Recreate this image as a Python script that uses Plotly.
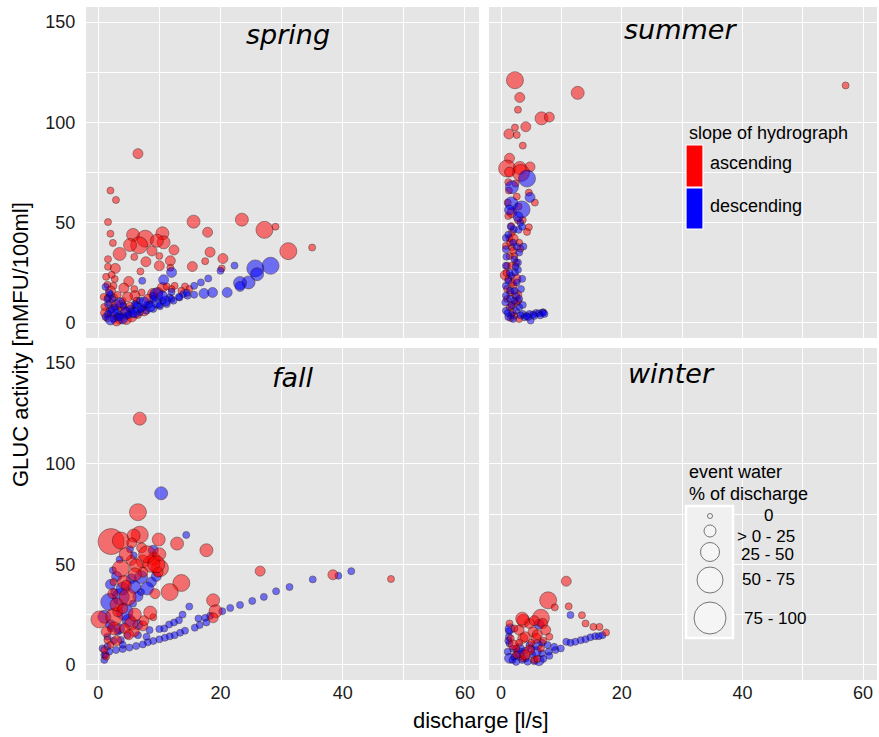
import plotly.graph_objects as go

# ---------------------------------------------------------------------------
# Data: discharge [l/s], GLUC activity [mMFU/100ml] and event-water class
# (0 = 0 %, 1 = >0-25 %, 2 = 25-50 %, 3 = 50-75 %, 4 = 75-100 %)
# ---------------------------------------------------------------------------
seasons = ["spring", "summer", "fall", "winter"]
slope_labels = ["ascending", "descending"]
event_labels = ["0", "> 0 - 25", "25 - 50", "50 - 75", "75 - 100"]

spring_q_asc = [6.5, 2.0, 2.9, 1.6, 2.0, 2.4, 15.6, 23.5, 27.2, 29.0, 31.1, 35.0, 17.9, 18.3, 5.7, 10.5, 7.7,
                6.7, 5.2, 10.7, 9.6, 8.8, 12.4, 3.5, 5.9, 10.0, 7.8, 10.0, 11.8, 15.4, 17.5, 20.4, 20.2, 11.8,
                1.6, 1.6, 2.8, 6.9, 5.0, 2.7, 1.5, 2.5, 4.2, 5.9, 7.1, 8.9, 10.5, 12.5, 11.2, 14.2, 14.9, 13.6,
                6.0, 1.6, 2.6, 1.9, 3.8, 5.2, 4.4, 3.5, 4.6, 1.5, 2.6, 6.3, 8.2, 9.8, 12.0,
                1.2, 2.2, 3.0, 4.0, 2.0, 3.2, 4.8, 1.0, 5.5, 6.5, 7.5, 3.0, 0.9, 1.3, 2.2]
spring_g_asc = [84.4, 66, 61.3, 50.3, 44.5, 39.9, 50.5, 51.5, 46.4, 48, 35.8, 37.6, 45.2, 35.3, 43.9, 44.7, 42,
                38.7, 38.9, 40.2, 41, 35.9, 36.4, 34.4, 32.9, 33.4, 30.5, 28.5, 31, 28.1, 30.8, 32.1, 27.2, 27.5,
                31.8, 28, 27.2, 25.7, 20.7, 21.9, 19, 18.5, 17.4, 16.9, 15.2, 14.7, 17.7, 18.5, 18.2, 18.2, 16.9,
                16.1, 13.6, 12.7, 12.7, 10.3, 8.6, 7.8, 5.3, 2, 1.7, 2.3, 4, 11.1, 11.9, 15.2, 16.9,
                5, 7, 9, 11, 16, 14, 13, 8, 3, 4, 6, 1, 13, 23, 24]
spring_ew_asc = [1, 0, 0, 0, 0, 0, 2, 2, 3, 0, 3, 0, 1, 1, 2, 2, 3, 3, 2, 2, 2, 1, 1, 2, 0, 0, 1, 1, 1, 1, 0, 1,
                 0, 0, 0, 0, 1, 0, 1, 0, 0, 0, 1, 0, 0, 1, 1, 0, 0, 0, 0, 0, 1, 0, 0, 0, 1, 1, 1, 1, 1, 0, 0, 0,
                 1, 1, 0,
                 1, 0, 1, 0, 1, 0, 1, 0, 1, 0, 1, 1, 0, 0, 0]

spring_q_desc = [28.2, 25.7, 26.0, 24.6, 23.2, 23.2, 22.3, 20.0, 21.1, 18.7, 17.3, 18.0, 16.8, 15.7, 15.7, 14.6,
                 13.3, 12.3, 11.2, 10.1, 9.0, 7.9, 6.8, 5.7, 4.6, 3.5, 2.5, 12.0, 10.7, 7.2, 9.5, 9.0, 6.8, 6.0,
                 4.1, 2.7, 1.9, 1.6, 3.0, 5.2, 7.4, 8.4, 10.6, 11.7, 13.9, 2.3, 1.6, 1.2, 2.0, 3.5, 4.5, 5.5, 6.5,
                 8.0, 9.5, 1.5, 2.0,
                 2.5, 3.2, 4.0, 5.0, 6.0, 7.0, 8.5, 10.0, 11.0, 12.0, 13.2, 14.5, 6.2, 7.5, 9.0, 10.5, 12.0, 3.5,
                 1.8, 1.2]
spring_g_desc = [28.5, 27.2, 24.3, 20.2, 19.9, 18.2, 28.6, 26, 15.2, 15.2, 14.7, 22.2, 20.2, 18.5, 14.1, 13.6,
                 12.7, 11.1, 9.4, 8.3, 7, 6.1, 5.3, 4.5, 3.6, 2.8, 2, 25.2, 21.5, 21, 14.2, 13.6, 11.1, 9.4, 8.6,
                 7.8, 6.1, 4.5, 5.3, 7, 7.8, 9.4, 11.1, 12.7, 14.4, 11.9, 9.4, 3, 1.5, 4, 5.5, 6, 7.5, 9, 10, 12,
                 14,
                 6, 3, 2, 4, 5, 7, 8, 9, 11, 12, 13, 15, 9, 10.5, 12, 13.5, 15.5, 10, 15, 18]
spring_ew_desc = [3, 3, 2, 2, 2, 1, 0, 0, 1, 1, 1, 0, 0, 0, 0, 0, 0, 0, 0, 0, 0, 0, 0, 0, 0, 0, 0, 1, 1, 0, 2, 0,
                  0, 0, 0, 0, 0, 0, 0, 0, 0, 0, 0, 0, 0, 0, 0, 0, 1, 0, 1, 0, 1, 0, 1, 0, 0,
                  1, 0, 1, 0, 1, 0, 1, 0, 1, 0, 0, 0, 0, 1, 0, 1, 0, 1, 0, 0]

summer_q_asc = [2.3, 57.1, 12.7, 3.1, 2.8, 6.7, 8.0, 4.1, 2.3, 1.3, 2.6, 3.6, 1.4, 1.0, 3.1, 4.8, 3.3, 1.4, 2.4,
                1.2, 4.6, 5.6, 2.9, 1.2, 2.8, 3.6, 4.6, 4.3, 1.7, 1.8, 1.4, 0.8, 1.8, 1.4, 1.0, 0.7, 1.2, 2.1, 1.5,
                1.9, 2.5, 2.2, 1.4, 1.7, 2.2, 1.5, 2.5, 0.9, 1.8, 1.0, 2.8, 1.6, 2.0, 3.0, 1.1,
                1.8, 2.6, 1.3, 2.0, 3.2, 2.5, 1.0, 2.6, 1.8, 3.0]
summer_g_asc = [121, 118.4, 114.7, 112.4, 106.3, 102, 102.6, 97.8, 97.4, 94.2, 93.7, 88.4, 82.1, 77, 77.3, 77.8,
                74.8, 75.2, 69.5, 70.2, 65, 60, 58, 53.3, 51.2, 51.3, 47.7, 45.4, 48.3, 45, 42.2, 38.4, 37.6, 33.4,
                28.5, 23.8, 21.9, 18.5, 15.2, 5.3, 9.9, 3.6, 7.8, 28.5, 33.4, 40, 30, 25, 20, 12, 11, 2.5, 36, 40,
                60,
                55, 63, 66, 42, 37, 22, 17, 14, 9, 2]
summer_ew_asc = [3, 0, 2, 1, 0, 2, 1, 1, 0, 1, 0, 0, 1, 3, 2, 1, 3, 1, 0, 0, 0, 0, 0, 0, 0, 0, 0, 0, 0, 0, 0, 0,
                 0, 0, 0, 1, 0, 0, 0, 0, 0, 0, 0, 0, 0, 0, 0, 0, 0, 0, 0, 0, 0, 0, 0,
                 1, 0, 0, 1, 0, 1, 0, 1, 0, 0]

summer_q_desc = [4.3, 1.8, 4.8, 1.7, 3.4, 1.4, 2.1, 2.9, 3.7, 3.0, 0.8, 0.8, 2.2, 2.8, 0.8, 2.8, 1.7, 2.6, 0.8,
                 1.5, 0.8, 2.5, 0.7, 1.7, 0.8, 2.5, 3.6, 4.7, 5.8, 6.9, 4.9, 3.9, 1.7, 3.0, 3.3, 2.3, 5.3, 6.3,
                 7.0, 4.2, 3.2, 2.0, 1.2, 2.2, 1.2, 3.2, 1.6, 2.0, 0.9,
                 1.4, 2.4, 3.5, 2.6, 1.2, 3.5, 2.8, 1.5, 3.0, 2.2, 1.1, 3.6, 4.5, 5.5, 6.5, 7.2]
summer_g_desc = [72, 67.7, 62.6, 59.6, 56.6, 56.3, 46.7, 46.4, 38.1, 35.1, 42.4, 36.8, 31.8, 30.1, 28.5, 26.5,
                 23.5, 20.2, 18.5, 16.1, 13.6, 13.6, 10.3, 8.6, 6.1, 6.1, 4.5, 4.5, 5, 5.3, 1.2, 2.8, 4, 7.8, 16.9,
                 25.2, 4.2, 4.8, 5.2, 3.5, 3.8, 2.0, 3.0, 11, 21, 50, 48, 40, 33,
                 25, 28, 22, 38, 44, 48, 53, 12, 12, 16, 5, 9, 3, 3.5, 3.8, 4.5]
summer_ew_desc = [3, 2, 1, 2, 3, 1, 0, 0, 0, 0, 0, 0, 0, 0, 0, 0, 0, 0, 0, 0, 0, 0, 0, 0, 0, 0, 0, 0, 0, 0, 0, 0,
                  0, 0, 0, 0, 0, 0, 0, 0, 0, 0, 0, 0, 0, 0, 0, 0, 0,
                  0, 0, 0, 0, 0, 0, 1, 0, 0, 0, 0, 0, 0, 0, 0, 0]

fall_q_asc = [6.8, 2.1, 3.7, 6.8, 5.8, 6.5, 9.9, 12.9, 7.1, 17.7, 5.5, 26.5, 38.4, 47.9, 3.7, 7.3, 9.1, 10.1, 8.7,
              5.4, 7.3, 4.2, 2.5, 13.6, 11.7, 9.3, 4.8, 18.8, 19.2, 18.8, 0.2, 2.6, 5.4, 9.0, 7.3, 2.6, 1.3, 4.3,
              5.9, 1.5, 1.0, 1.3, 3.2, 2.4, 4.6, 6.2, 9.8,
              3.0, 4.0, 6.0, 7.5, 8.5, 5.0, 3.0, 2.0, 6.0, 8.0, 10.0, 9.5, 4.5]
fall_g_asc = [122.4, 61.3, 61.8, 64.7, 64.3, 75.9, 62.3, 60.3, 58.2, 57, 60.6, 46.6, 44.8, 42.7, 47.8, 51.4, 52.7,
              48.1, 50.2, 51.9, 46.1, 41.2, 41.2, 40.7, 36.2, 35.4, 33.8, 32.1, 26.7, 23.4, 22.6, 23.9, 20.6, 23.7,
              19.4, 18.1, 16.5, 18.1, 16.5, 12.4, 7.4, 4.1, 26.4, 35.4, 39.5, 49.4, 46.1,
              30, 28, 25, 22, 26, 15, 12, 10, 45, 55, 55, 50, 55]
fall_ew_asc = [2, 4, 3, 3, 2, 3, 2, 2, 1, 2, 1, 1, 1, 0, 3, 2, 2, 3, 3, 1, 1, 2, 0, 3, 3, 1, 3, 2, 2, 1, 3, 3, 2,
               0, 1, 2, 1, 1, 1, 0, 0, 0, 1, 1, 1, 2, 1,
               2, 1, 2, 1, 2, 1, 1, 0, 2, 3, 2, 3, 2]

fall_q_desc = [10.3, 14.4, 9.0, 5.2, 5.8, 3.5, 1.8, 3.7, 4.3, 1.0, 2.4, 5.4, 7.0, 8.7, 5.9, 7.0, 5.7, 2.6, 41.4,
               39.3, 35.1, 31.3, 29.1, 27.1, 25.2, 23.2, 21.6, 20.3, 18.3, 17.5, 16.4, 17.7, 16.6, 15.8, 14.9, 13.8,
               13.2, 12.4, 11.6, 10.8, 10.0, 14.2, 13.4, 12.5, 11.7, 10.9, 10.0, 9.0, 8.1, 7.3, 6.2, 5.1, 4.0, 2.9,
               1.8, 1.0, 1.0, 0.7, 1.5, 2.1, 3.2, 4.8, 6.5, 7.9, 3.7, 8.4,
               2.0, 3.0, 4.0, 6.5, 8.0, 9.5, 2.0, 3.5, 5.0, 6.5, 1.5, 2.5, 4.0, 1.2]
fall_g_desc = [85.3, 64.6, 57, 57.5, 54.4, 52.4, 31.3, 33.8, 26.4, 23.9, 47, 42.8, 43.7, 41.2, 38.7, 36.2, 30.5,
               36.2, 46.6, 44.3, 42.5, 38.7, 36.6, 33.8, 31.8, 29.8, 28.3, 26.7, 24.4, 23.4, 23.1, 21.1, 19.8, 18.5,
               29, 25, 22.2, 21.1, 20.1, 18.1, 17.8, 17, 16, 14.8, 14.2, 13.5, 12.7, 11.9, 11.2, 10.2, 9.4, 8.6,
               7.9, 7.4, 6.6, 2.5, 4.9, 8.2, 9.1, 18.1, 16.5, 14.8, 14.8, 14.0, 12.4, 17.3,
               40, 44, 38, 34, 38, 44, 20, 18, 22, 20, 14, 12, 10, 5]
fall_ew_desc = [2, 0, 1, 0, 0, 0, 3, 3, 3, 2, 0, 1, 2, 1, 2, 0, 0, 0, 0, 0, 0, 0, 0, 0, 0, 0, 0, 0, 0, 0, 0, 0,
                0, 0, 0, 0, 0, 0, 0, 0, 0, 0, 0, 0, 0, 0, 0, 0, 0, 0, 0, 0, 0, 0, 0, 0, 0, 0, 0, 0, 0, 0, 0, 0,
                0, 0,
                1, 1, 2, 1, 2, 1, 1, 1, 2, 1, 0, 0, 0, 0]

winter_q_asc = [10.8, 7.8, 8.9, 11.2, 13.4, 14.0, 15.3, 16.3, 17.4, 3.7, 6.6, 6.9, 4.7, 5.3, 7.4, 3.0, 1.6, 3.6,
                5.8, 2.5, 4.7, 3.6, 5.5, 6.6, 1.4, 2.2,
                2.0, 3.0, 4.0, 5.0, 6.0, 7.0, 8.0, 2.5, 4.0, 6.0, 3.5, 5.5]
winter_g_asc = [41.6, 32.1, 28.6, 29.1, 24.7, 20.6, 18.9, 18.9, 16.1, 21.9, 23.4, 20.6, 20.6, 16.4, 17.3, 17.3,
                13.2, 13.2, 13.2, 8.2, 7.4, 3.3, 2.5, 8.2, 20.6, 18.1,
                10, 11, 14, 11, 15, 12, 14, 5, 5, 3, 23, 22]
winter_ew_asc = [1, 3, 0, 0, 0, 0, 0, 0, 0, 2, 3, 1, 1, 1, 1, 1, 0, 1, 1, 0, 1, 0, 0, 0, 0, 0,
                 1, 0, 1, 0, 1, 0, 0, 0, 1, 0, 2, 1]

winter_q_desc = [11.5, 6.3, 1.3, 1.3, 1.4, 1.1, 1.4, 1.9, 3.0, 4.1, 6.3, 5.2, 6.8, 7.9, 9.0, 9.9, 10.8, 11.5,
                 12.3, 13.2, 14.0, 14.8, 15.6, 16.2, 16.8, 7.7, 8.8, 3.0, 4.7, 5.8, 4.4, 2.2,
                 1.5, 1.2, 2.0, 3.0, 4.0, 5.0, 6.0, 6.8, 2.5, 3.5, 5.5, 7.0, 8.0]
winter_g_desc = [24.8, 20.2, 16.8, 14, 10.7, 6.6, 3.3, 2.5, 4.9, 3.3, 2.1, 4.9, 5.8, 6.6, 7.4, 8.2, 11.5, 11,
                 11.5, 12.3, 12.8, 13.7, 14.3, 14.3, 14.8, 9.9, 9, 8.2, 9.9, 6.6, 1.6, 4.1,
                 18, 12, 8, 6, 7, 8, 10, 11, 1.5, 2.5, 1.8, 3, 4.5]
winter_ew_desc = [0, 1, 0, 0, 0, 0, 1, 0, 1, 0, 1, 0, 0, 0, 0, 0, 0, 0, 0, 0, 0, 0, 0, 0, 0, 0, 0, 1, 0, 1, 0, 0,
                  1, 0, 0, 1, 0, 0, 1, 0, 0, 0, 0, 0, 0]

# ---------------------------------------------------------------------------
# Styling
# ---------------------------------------------------------------------------
W, H = 879, 737
FONT = "Liberation Sans, Arial, Helvetica, sans-serif"
PANEL_BG = "#e5e5e5"
FILL = {"ascending": "rgba(255,0,0,0.74)", "descending": "rgba(0,0,255,0.74)"}
KEY = {"ascending": "#ff0000", "descending": "#0000ff"}
POINT_SIZE = [7, 10, 13, 17, 26]     # marker diameter per event-water class
KEY_SIZE = [5, 12, 19, 26, 32]       # circle diameter in the size legend


def fx(p):
    return p / W


def fy(p):
    return 1 - p / H


col_dom = [[fx(86), fx(479)], [fx(489), fx(877)]]
row_dom = [[fy(338), fy(7)], [fy(680), fy(348)]]

panel_data = {
    "spring": [(spring_q_asc, spring_g_asc, spring_ew_asc), (spring_q_desc, spring_g_desc, spring_ew_desc)],
    "summer": [(summer_q_asc, summer_g_asc, summer_ew_asc), (summer_q_desc, summer_g_desc, summer_ew_desc)],
    "fall": [(fall_q_asc, fall_g_asc, fall_ew_asc), (fall_q_desc, fall_g_desc, fall_ew_desc)],
    "winter": [(winter_q_asc, winter_g_asc, winter_ew_asc), (winter_q_desc, winter_g_desc, winter_ew_desc)],
}
# drawing order of the two slope groups inside each panel
draw_order = {"spring": [0, 1], "summer": [0, 1], "fall": [1, 0], "winter": [1, 0]}
# facet label anchor in data units
label_pos = {"spring": (31.1, 143.7), "summer": (29.8, 146.4), "fall": (31.8, 143.0), "winter": (28.3, 144.9)}

fig = go.Figure()

for i, season in enumerate(seasons):
    suffix = "" if i == 0 else str(i + 1)
    xref, yref = "x" + suffix, "y" + suffix
    for k in draw_order[season]:
        q, g, ew = panel_data[season][k]
        assert len(q) == len(g) == len(ew)
        slope = slope_labels[k]
        fig.add_trace(go.Scatter(
            x=q, y=g, mode="markers", xaxis=xref, yaxis=yref, showlegend=False,
            marker=dict(size=[POINT_SIZE[c] for c in ew], color=FILL[slope],
                        line=dict(color="rgba(30,0,0,0.8)", width=0.7)),
            name=slope,
        ))
    lx, ly = label_pos[season]
    fig.add_annotation(x=lx, y=ly, xref=xref, yref=yref, text=season, showarrow=False,
                       xanchor="center", yanchor="middle",
                       font=dict(family="DejaVu Sans, Verdana, sans-serif", size=27, color="black",
                                 style="italic"))

axis_font = dict(family=FONT, size=18, color="#1a1a1a")
layout = dict(
    width=W, height=H,
    margin=dict(l=0, r=0, t=0, b=0),
    paper_bgcolor="white", plot_bgcolor=PANEL_BG,
    showlegend=False, font=dict(family=FONT, color="black"),
)
for i in range(4):
    r, c = divmod(i, 2)
    suffix = "" if i == 0 else str(i + 1)
    layout["xaxis" + suffix] = dict(
        domain=col_dom[c], anchor="y" + suffix, range=[-2.0, 62.3],
        tickvals=[0, 20, 40, 60], showticklabels=(r == 1),
        ticks="", ticklen=0,
        showgrid=True, gridcolor="white", gridwidth=1.1, zeroline=False, showline=False,
        minor=dict(tickvals=[10, 30, 50], showgrid=True, gridcolor="white", gridwidth=0.5, ticks=""),
        tickfont=axis_font, automargin=False,
    )
    layout["yaxis" + suffix] = dict(
        domain=row_dom[r], anchor="x" + suffix, range=[-7.5, 157.5],
        tickvals=[0, 50, 100, 150], showticklabels=(c == 0),
        ticks="outside", ticklen=6, tickcolor="rgba(0,0,0,0)",
        showgrid=True, gridcolor="white", gridwidth=1.1, zeroline=False, showline=False,
        minor=dict(tickvals=[25, 75, 125], showgrid=True, gridcolor="white", gridwidth=0.5, ticks=""),
        tickfont=axis_font, automargin=False,
    )
fig.update_layout(**layout)

# axis titles
fig.add_annotation(x=fx(481), y=fy(720), xref="paper", yref="paper", text="discharge [l/s]",
                   showarrow=False, xanchor="center", yanchor="middle", font=dict(family=FONT, size=22))
fig.add_annotation(x=fx(20), y=fy(345), xref="paper", yref="paper", text="GLUC activity [mMFU/100ml]",
                   showarrow=False, textangle=-90, xanchor="center", yanchor="middle",
                   font=dict(family=FONT, size=22))

legend_font = dict(family=FONT, size=18, color="black")
key_font = dict(family=FONT, size=17, color="black")

# colour legend: slope of hydrograph
fig.add_annotation(x=fx(687), y=fy(133), xref="paper", yref="paper", text="slope of hydrograph",
                   showarrow=False, xanchor="left", yanchor="middle", font=legend_font)
key_rows = [(145, 187, 163), (188, 229, 206)]
for slope, (top, bot, mid) in zip(slope_labels, key_rows):
    fig.add_shape(type="rect", xref="paper", yref="paper", x0=fx(686), x1=fx(703), y0=fy(bot), y1=fy(top),
                  fillcolor=KEY[slope], line=dict(color="white", width=1.2))
    fig.add_annotation(x=fx(708), y=fy(mid), xref="paper", yref="paper", text=slope,
                       showarrow=False, xanchor="left", yanchor="middle", font=legend_font)

# size legend: event water share
fig.add_annotation(x=fx(687), y=fy(472), xref="paper", yref="paper", text="event water",
                   showarrow=False, xanchor="left", yanchor="middle", font=legend_font)
fig.add_annotation(x=fx(687), y=fy(494), xref="paper", yref="paper", text="% of discharge",
                   showarrow=False, xanchor="left", yanchor="middle", font=legend_font)
fig.add_shape(type="rect", xref="paper", yref="paper", x0=fx(686), x1=fx(733), y0=fy(638), y1=fy(506),
              fillcolor="#f0f0f0", line=dict(color="white", width=2.5))
circle_y = [516, 531, 552, 580, 618]
label_x = [768, 766, 767, 768, 775]
label_y = [515, 536, 554, 579, 618]
for lab, d, cy, lx, ly in zip(event_labels, KEY_SIZE, circle_y, label_x, label_y):
    fig.add_shape(type="circle", xref="paper", yref="paper", xsizemode="pixel", ysizemode="pixel",
                  xanchor=fx(710), yanchor=fy(cy), x0=-d / 2, x1=d / 2, y0=-d / 2, y1=d / 2,
                  fillcolor="rgba(255,255,255,0.35)", line=dict(color="#555555", width=0.8))
    fig.add_annotation(x=fx(lx), y=fy(ly), xref="paper", yref="paper", text=lab,
                       showarrow=False, xanchor="center", yanchor="middle", font=key_font)

fig.write_html("out.html")
